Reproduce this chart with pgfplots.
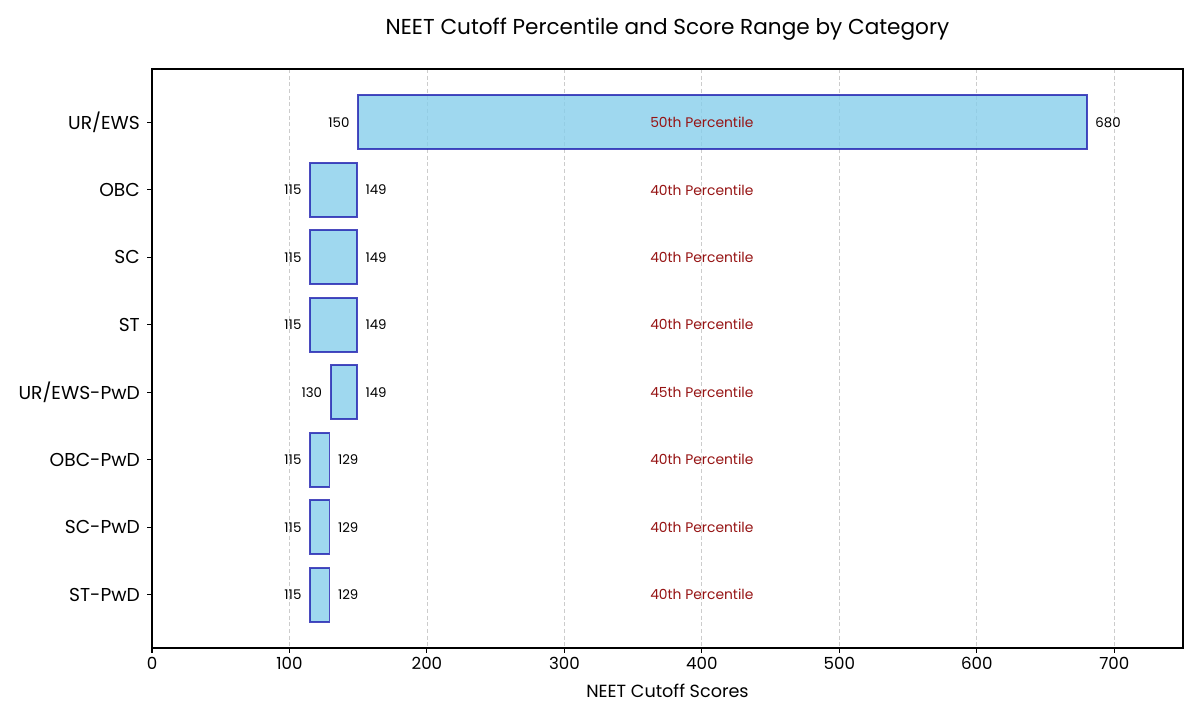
\documentclass[border=0pt]{standalone}
\usepackage{pgfplots}
\pgfplotsset{compat=1.18}
\usepackage{fontspec}
\setmainfont{Poppins}
\definecolor{barfill}{RGB}{135,206,235}
\definecolor{baredge}{RGB}{30,30,175}
\definecolor{pctred}{RGB}{150,20,20}

\begin{document}
\begin{tikzpicture}
\begin{axis}[name=ax, scale only axis, width=773.25pt, height=434.25pt,
  xmin=0, xmax=750, ymin=-0.79, ymax=7.79, y dir=reverse,
  xtick={0,100,...,700}, ytick={0,...,7},
  yticklabels={UR/EWS,OBC,SC,ST,UR/EWS-PwD,OBC-PwD,SC-PwD,ST-PwD},
  tick align=outside, tick pos=left, major tick length=3.6pt,
  xmajorgrids, grid style={dash pattern=on 3pt off 2pt, black!20, line width=0.6pt},
  axis line style={line width=0.8pt}, tick style={line width=0.8pt, black},
  xticklabel style={font=\fontsize{12.5}{15}\selectfont},
  yticklabel style={font=\fontsize{14}{16}\selectfont, xshift=-2pt},
  /pgf/number format/assume math mode=true,
  xlabel={NEET Cutoff Scores},
  xlabel style={font=\fontsize{13.2}{15}\selectfont, at={(0.5,0)}, anchor=center, yshift=-32.5pt},
  title={NEET Cutoff Percentile and Score Range by Category},
  title style={font=\fontsize{16.2}{19}\selectfont, at={(0.5,1)}, anchor=center, yshift=23.5pt},
  clip=false,
]
\pgfplotsset{bar/.style={fill=barfill, fill opacity=0.8, draw=baredge, draw opacity=0.8, line width=1.25pt}}
\addplot[bar] coordinates {(150,-0.4) (680,-0.4) (680,0.4) (150,0.4)} -- cycle;
\addplot[bar] coordinates {(115,0.6) (149,0.6) (149,1.4) (115,1.4)} -- cycle;
\addplot[bar] coordinates {(115,1.6) (149,1.6) (149,2.4) (115,2.4)} -- cycle;
\addplot[bar] coordinates {(115,2.6) (149,2.6) (149,3.4) (115,3.4)} -- cycle;
\addplot[bar] coordinates {(130,3.6) (149,3.6) (149,4.4) (130,4.4)} -- cycle;
\addplot[bar] coordinates {(115,4.6) (129,4.6) (129,5.4) (115,5.4)} -- cycle;
\addplot[bar] coordinates {(115,5.6) (129,5.6) (129,6.4) (115,6.4)} -- cycle;
\addplot[bar] coordinates {(115,6.6) (129,6.6) (129,7.4) (115,7.4)} -- cycle;

% start labels
\addplot[draw=none, mark=none, nodes near coords, point meta=explicit symbolic,
  nodes near coords style={anchor=east, xshift=-3pt, font=\fontsize{10}{12}\selectfont, text=black}]
  table[meta=lab] {
x y lab
150 0 150
115 1 115
115 2 115
115 3 115
130 4 130
115 5 115
115 6 115
115 7 115
};
% end labels
\addplot[draw=none, mark=none, nodes near coords, point meta=explicit symbolic,
  nodes near coords style={anchor=west, xshift=3pt, font=\fontsize{10}{12}\selectfont, text=black}]
  table[meta=lab] {
x y lab
680 0 680
149 1 149
149 2 149
149 3 149
149 4 149
129 5 129
129 6 129
129 7 129
};
% percentile labels
\addplot[draw=none, mark=none, nodes near coords, point meta=explicit symbolic,
  nodes near coords style={anchor=center, font=\fontsize{10.4}{12}\selectfont, text=pctred}]
  table[meta=lab, col sep=comma] {
x,y,lab
400,0,50th Percentile
400,1,40th Percentile
400,2,40th Percentile
400,3,40th Percentile
400,4,45th Percentile
400,5,40th Percentile
400,6,40th Percentile
400,7,40th Percentile
};
\end{axis}
\path[use as bounding box] ([shift={(-114pt,-54pt)}]ax.south west) rectangle ([shift={(12.75pt,51.75pt)}]ax.north east);
\end{tikzpicture}
\end{document}
